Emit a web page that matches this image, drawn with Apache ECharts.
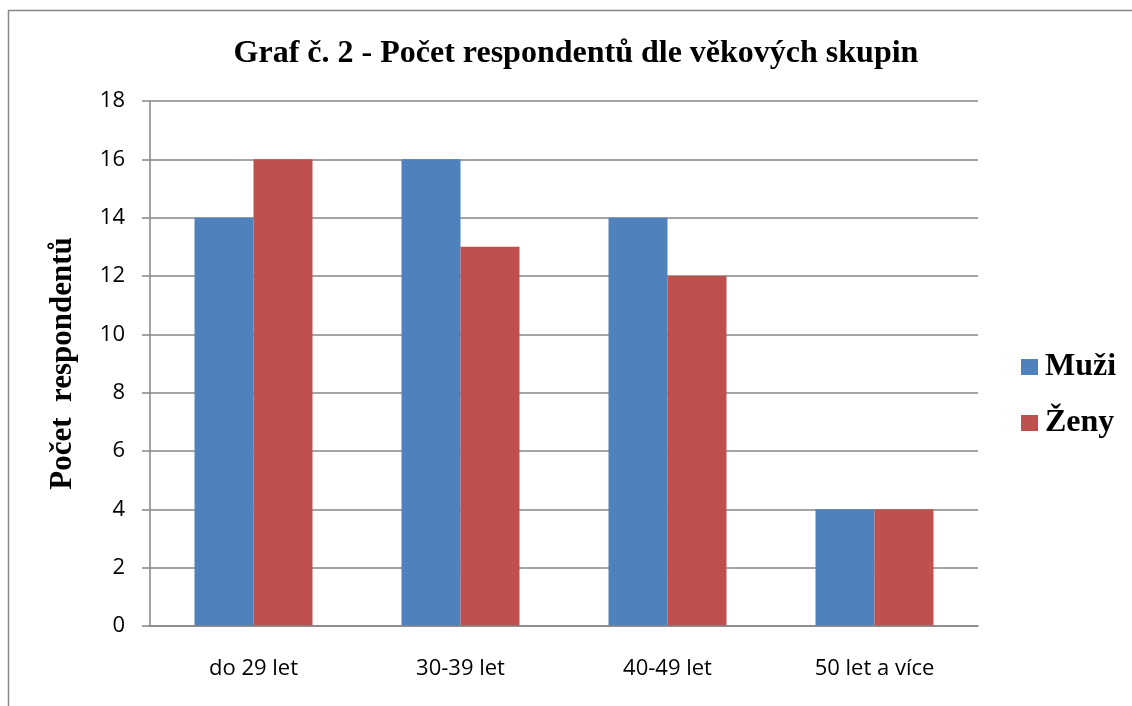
<!DOCTYPE html>
<html>
<head>
<meta charset="utf-8">
<script src="https://cdn.jsdelivr.net/npm/echarts@6/dist/echarts.min.js"></script>
<style>
html, body { margin: 0; padding: 0; background: #fff; }
#chart1 { width: 1132px; height: 706px; }
</style>
</head>
<body>
<div id="chart1"></div>
<script>
var myChart = echarts.init(document.getElementById('chart1'));

var categories = ['do 29 let', '30-39 let', '40-49 let', '50 let a více'];
var muzi = [14, 16, 14, 4];
var zeny = [16, 13, 12, 4];
var yTicks = [0, 2, 4, 6, 8, 10, 12, 14, 16, 18];

var serif = '"Liberation Serif", "DejaVu Serif", serif';
var sans = '"Open Sans", "Liberation Sans", sans-serif';

option = {
    animation: false,
    graphic: [
        { // chart frame, cut off at right and bottom
            type: 'rect',
            shape: { x: 8.5, y: 10.5, width: 1140, height: 720 },
            style: { fill: 'none', stroke: '#868686', lineWidth: 1.5 },
            silent: true
        }
    ],
    title: {
        text: 'Graf č. 2 - Počet respondentů dle věkových skupin',
        left: 571,
        top: 33,
        textAlign: 'center',
        textStyle: {
            fontFamily: serif,
            fontWeight: 'bold',
            fontSize: 32,
            color: '#000'
        }
    },
    legend: {
        orient: 'vertical',
        left: 1021,
        top: 351,
        padding: 0,
        itemWidth: 17,
        itemHeight: 16,
        itemGap: 24,
        icon: 'rect',
        data: ['Muži', 'Ženy'],
        textStyle: {
            fontFamily: serif,
            fontWeight: 'bold',
            fontSize: 32,
            color: '#000',
            padding: [0, 0, 0, 2]
        }
    },
    grid: {
        left: 150,
        right: 154,
        top: 101,
        bottom: 80,
        containLabel: false
    },
    xAxis: {
        type: 'category',
        data: categories,
        axisTick: { show: false },
        axisLine: {
            show: true,
            lineStyle: { color: '#868686', width: 1.5 }
        },
        axisLabel: {
            margin: 32,
            fontFamily: sans,
            fontSize: 22,
            color: '#000'
        },
        z: 10
    },
    yAxis: {
        type: 'value',
        min: yTicks[0],
        max: yTicks[yTicks.length - 1],
        interval: 2,
        name: 'Počet  respondentů',
        nameLocation: 'middle',
        nameGap: 72,
        nameTextStyle: {
            fontFamily: serif,
            fontWeight: 'bold',
            fontSize: 31,
            color: '#000'
        },
        axisLine: {
            show: true,
            lineStyle: { color: '#868686', width: 1.5 }
        },
        axisTick: {
            show: true,
            length: 8,
            lineStyle: { color: '#868686', width: 1.5 }
        },
        splitLine: {
            show: true,
            lineStyle: { color: '#868686', width: 1.5 }
        },
        axisLabel: {
            margin: 25,
            fontFamily: sans,
            fontSize: 22,
            color: '#000'
        }
    },
    series: [
        {
            name: 'Muži',
            type: 'bar',
            data: muzi,
            barGap: '0%',
            barCategoryGap: '43%',
            itemStyle: { color: '#4F81BD' }
        },
        {
            name: 'Ženy',
            type: 'bar',
            data: zeny,
            itemStyle: { color: '#C0504D' }
        }
    ]
};
myChart.setOption(option);
</script>
</body>
</html>
